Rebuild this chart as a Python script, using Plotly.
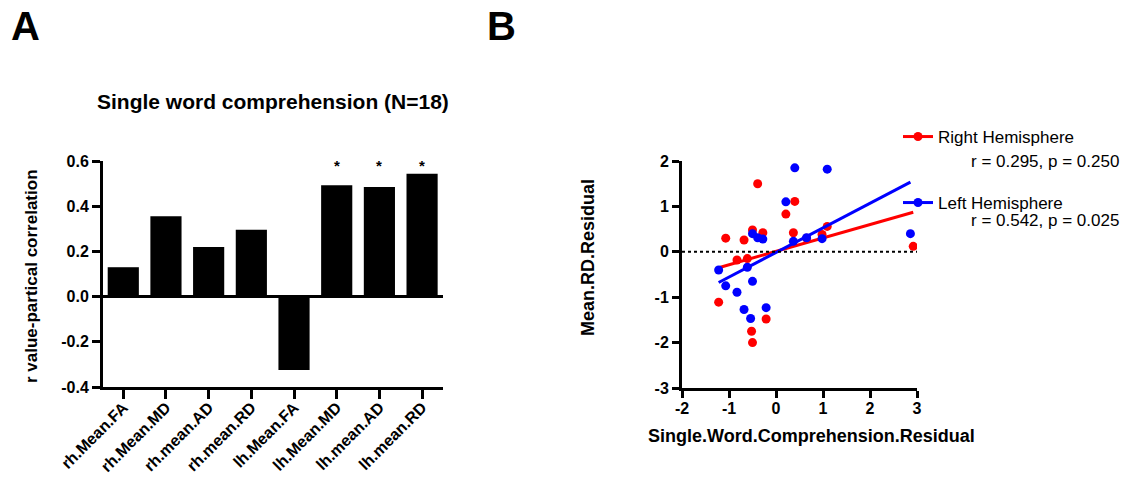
import plotly.graph_objects as go

# ---------------- data ----------------
bar_labels = ["rh.Mean.FA", "rh.Mean.MD", "rh.mean.AD", "rh.mean.RD",
              "lh.Mean.FA", "lh.Mean.MD", "lh.mean.AD", "lh.mean.RD"]
bar_values = [0.13, 0.355, 0.22, 0.296, -0.325, 0.493, 0.485, 0.544]
bar_sig = [False, False, False, False, False, True, True, True]

yA_ticks = [-0.4, -0.2, 0.0, 0.2, 0.4, 0.6]
yA_ticktext = ["-0.4", "-0.2", "0.0", "0.2", "0.4", "0.6"]

right_x = [-1.22, -1.07, -0.83, -0.68, -0.61, -0.50, -0.52, -0.50, -0.39,
           -0.28, -0.21, 0.21, 0.40, 0.37, 0.65, 0.98, 1.09, 2.92]
right_y = [-1.11, 0.30, -0.18, 0.26, -0.15, 0.48, -1.75, -2.00, 1.50,
           0.42, -1.48, 0.83, 1.11, 0.42, 0.30, 0.38, 0.56, 0.12]
left_x = [-1.22, -1.07, -0.83, -0.68, -0.61, -0.50, -0.50, -0.54, -0.39,
          -0.28, -0.21, 0.21, 0.40, 0.37, 0.65, 0.98, 1.09, 2.86]
left_y = [-0.40, -0.75, -0.89, -1.27, -0.34, 0.40, -0.65, -1.47, 0.31,
          0.28, -1.23, 1.10, 1.85, 0.23, 0.31, 0.29, 1.82, 0.40]

series_names = ["Right Hemisphere", "Left Hemisphere"]
series_stats = ["r = 0.295, p = 0.250", "r = 0.542, p = 0.025"]
fit_slope = [0.295, 0.542]
fit_intercept = [0.01, -0.015]

xB_ticks = [-2, -1, 0, 1, 2, 3]
xB_ticktext = ["-2", "-1", "0", "1", "2", "3"]
yB_ticks = [-3, -2, -1, 0, 1, 2]
yB_ticktext = ["-3", "-2", "-1", "0", "1", "2"]

# ---------------- styles ----------------
W, H = 1137, 477
FONT = "Liberation Sans"
RED = "#ff0000"
BLUE = "#0000ff"
colors = [RED, BLUE]


def px_x(p):
    return p / W


def px_y(p):
    return 1 - p / H


bold = dict(family=FONT, size=16, color="black", weight="bold")

fig = go.Figure()

# Panel A bars
fig.add_trace(go.Bar(
    x=bar_labels, y=bar_values, marker=dict(color="black", line=dict(width=0)),
    width=0.73, xaxis="x", yaxis="y", showlegend=False,
))

# Panel B scatter + fits
for xs, ys, col, name, m, b, lg in zip([right_x, left_x], [right_y, left_y], colors,
                                       series_names, fit_slope, fit_intercept,
                                       ["legend", "legend2"]):
    fig.add_trace(go.Scatter(
        x=xs, y=ys, mode="markers", marker=dict(color=col, size=9),
        xaxis="x2", yaxis="y2", showlegend=False,
    ))
    x0, x1 = min(xs), max(xs)
    fig.add_trace(go.Scatter(
        x=[x0, x1], y=[m * x0 + b, m * x1 + b], mode="lines",
        line=dict(color=col, width=3), xaxis="x2", yaxis="y2", showlegend=False,
    ))
    fig.add_trace(go.Scatter(
        x=[None], y=[None], mode="lines+markers", name=name,
        line=dict(color=col, width=3), marker=dict(color=col, size=9),
        xaxis="x2", yaxis="y2", showlegend=True, legend=lg,
    ))

axis_common = dict(showline=True, linecolor="black", linewidth=3, ticks="outside",
                   tickcolor="black", tickwidth=3, showgrid=False, tickfont=bold,
                   mirror=False, automargin=False)

fig.update_layout(
    template="none",
    width=W, height=H, margin=dict(l=0, r=0, t=0, b=0, pad=0, autoexpand=False),
    paper_bgcolor="white", plot_bgcolor="white",
    xaxis=dict(domain=[px_x(103), px_x(443)], anchor="y", type="category",
               range=[-0.475, 7.49], tickangle=-45, ticklen=9, zeroline=False,
               ticklabelstandoff=-7,
               **axis_common),
    yaxis=dict(domain=[px_y(387), px_y(161)], anchor="x", range=[-0.4, 0.6],
               tickvals=yA_ticks, ticktext=yA_ticktext, ticklen=8,
               zeroline=True, zerolinecolor="black", zerolinewidth=3,
               **axis_common),
    xaxis2=dict(domain=[px_x(682), px_x(917)], anchor="y2", range=[-2, 3],
                tickvals=xB_ticks, ticktext=xB_ticktext, ticklen=7,
                ticklabelstandoff=-3, zeroline=False, **axis_common),
    yaxis2=dict(domain=[px_y(388), px_y(161)], anchor="x2", range=[-3, 2],
                tickvals=yB_ticks, ticktext=yB_ticktext, ticklen=7,
                zeroline=False, **axis_common),
    legend=dict(x=px_x(898), y=px_y(119), xanchor="left", yanchor="top",
                font=dict(family=FONT, size=17, color="black"),
                bgcolor="rgba(0,0,0,0)", borderwidth=0),
    legend2=dict(x=px_x(898), y=px_y(185), xanchor="left", yanchor="top",
                 font=dict(family=FONT, size=17, color="black"),
                 bgcolor="rgba(0,0,0,0)", borderwidth=0),
    showlegend=True,
)

# dotted zero line in panel B
fig.add_shape(type="line", xref="x2", yref="y2", x0=-2, x1=3, y0=0, y1=0,
              line=dict(color="black", width=2, dash="dot"))

ann = []
# significance asterisks above bars
for lab, v, s in zip(bar_labels, bar_values, bar_sig):
    if s:
        ann.append(dict(text="*", x=lab, y=0.58, xref="x", yref="y", showarrow=False,
                        xanchor="center", yanchor="middle",
                        font=dict(family=FONT, size=15, color="black", weight="bold")))


def text_ann(text, x, y, size, weight="bold", angle=0, xanchor="center"):
    return dict(text=text, x=px_x(x), y=px_y(y), xref="paper", yref="paper",
                showarrow=False, xanchor=xanchor, yanchor="middle", textangle=angle,
                font=dict(family=FONT, size=size, color="black", weight=weight))


ann.append(text_ann("A", 25, 26, 40))
ann.append(text_ann("B", 501, 26, 40))
ann.append(text_ann("Single word comprehension (N=18)", 273, 101, 21))
ann.append(text_ann("r value-partical correlation", 31, 276, 17, angle=-90))
ann.append(text_ann("Mean.RD.Residual", 588, 258, 18, angle=-90))
ann.append(text_ann("Single.Word.Comprehension.Residual", 811, 436, 18))
for s, yc in zip(series_stats, [162, 220]):
    ann.append(text_ann(s, 1121, yc, 17, weight="normal", xanchor="right"))
fig.update_layout(annotations=ann)

fig.write_html("out.html", config={"displayModeBar": False},
               post_script="document.body.style.margin='0';document.body.style.padding='0';")
